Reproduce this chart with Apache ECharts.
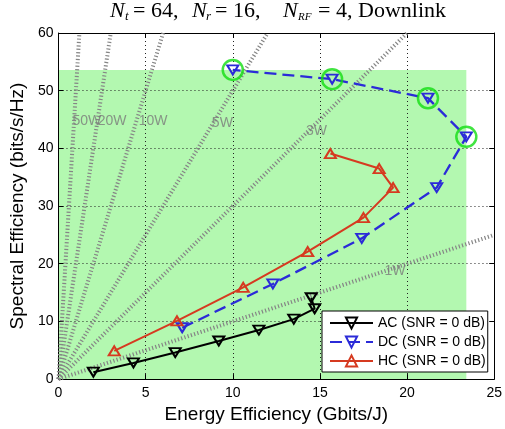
<!DOCTYPE html>
<html><head><meta charset="utf-8">
<script src="https://cdn.jsdelivr.net/npm/echarts@6/dist/echarts.min.js"></script>
<style>html,body{margin:0;padding:0;background:#fff}#c{width:505px;height:429px}</style>
</head><body><div id="c"></div>
<script>
// ---- data ----
const acData = [[2.0,1.2],[4.3,2.8],[6.7,4.6],[9.2,6.6],[11.5,8.5],[13.5,10.4],[14.7,12.2],[14.5,14.1]];
const dcData = [[7.1,8.9],[12.3,16.5],[17.4,24.4],[21.7,33.2],[23.4,42.0],[21.2,48.7],[15.7,52.0],[10.0,53.6]];
const hcData = [[3.2,4.9],[6.8,10.1],[10.6,15.9],[14.3,22.1],[17.5,28.0],[19.2,33.2],[18.4,36.5],[15.6,39.1]];
const highlightIdx = [4,5,6,7];            // circled DC points
const powerLevels = [1,3,5,10,20,50];      // W
const powerLabels = ['1W','3W','5W','10W','20W','50W'];
const powerLabelPos = [[18.7,18.7],[14.2,43.0],[8.8,44.3],[4.6,44.8],[2.25,44.8],[0.8,44.8]];
const xRange = [0,25], xStep = 5;
const yRange = [0,60], yStep = 10;
const legendNames = ['AC (SNR = 0 dB)','DC (SNR = 0 dB)','HC (SNR = 0 dB)'];
const xName = 'Energy Efficiency (Gbits/J)';
const yName = 'Spectral Efficiency (bits/s/Hz)';

// ---- build ----
const sans = 'Liberation Sans, Arial, sans-serif';
const serif = 'Liberation Serif, Times New Roman, serif';
const maxEE = Math.max(...dcData.map(d=>d[0]));
const maxSE = Math.max(...dcData.map(d=>d[1]));

const powerSeries = powerLevels.map((p,i)=>{
  const xe = Math.min(xRange[1], yRange[1]/p);
  return {
    type:'line', name:'p'+p, data:[[0,0],[xe,xe*p]], symbol:'none', z:1, silent:true,
    lineStyle:{color:'#858585', width:4, type:[1.2,2.2]}, clip:true
  };
});

const axisCommon = {
  type:'value',
  axisLine:{onZero:false, lineStyle:{color:'#000', width:1}},
  axisTick:{inside:true, length:5, lineStyle:{color:'#000'}},
};

const mk = (o)=>Object.assign({fontFamily:serif, fontSize:22, lineHeight:24, color:'#000', fontWeight:'normal'}, o);
const sub = (o)=>Object.assign({fontFamily:serif, fontStyle:'italic', fontSize:13, lineHeight:13, padding:[11,0,0,0], verticalAlign:'bottom', color:'#000', fontWeight:'normal'}, o);

const option = {
  animation:false,
  backgroundColor:'#fff',
  title:{
    left:110, top:-1, padding:0,
    text:'{n1|N}{s1|t}{e1|= 64,}{n2|N}{s2|r}{e2|= 16,}{n3|N}{s3|RF}{e3|= 4,}{d|Downlink}',
    textStyle:{
      fontWeight:'normal',
      rich:{
        n1:mk({fontStyle:'italic', width:15}),
        s1:sub({width:8}),
        e1:mk({width:59}),
        n2:mk({fontStyle:'italic', width:14}),
        s2:sub({width:9}),
        e2:mk({width:68}),
        n3:mk({fontStyle:'italic', width:15}),
        s3:sub({width:20, fontSize:11}),
        e3:mk({width:40}),
        d:mk({})
      }
    }
  },
  grid:{left:54.5, top:33, width:444.5, height:349, containLabel:false},
  legend:{
    data:legendNames, orient:'vertical', left:322, top:311,
    backgroundColor:'#fff', borderColor:'#000', borderWidth:1, borderRadius:0,
    padding:[5,2,4,7], itemGap:5, itemWidth:43, itemHeight:14,
    textStyle:{fontFamily:sans, fontSize:14, color:'#000'}
  },
  xAxis:[
    Object.assign({}, axisCommon, {
      min:xRange[0], max:xRange[1], interval:xStep, position:'bottom',
      axisLabel:{fontFamily:sans, fontSize:14, color:'#000', margin:7},
      splitLine:{show:true, lineStyle:{color:'#222', width:1, type:[1,3]}},
      name:xName, nameLocation:'middle', nameGap:24,
      nameTextStyle:{fontFamily:sans, fontSize:19, color:'#000'}
    }),
    Object.assign({}, axisCommon, {
      min:xRange[0], max:xRange[1], interval:xStep, position:'top',
      axisLabel:{show:false}, splitLine:{show:false}
    })
  ],
  yAxis:[
    Object.assign({}, axisCommon, {
      min:yRange[0], max:yRange[1], interval:yStep, position:'left',
      axisLabel:{fontFamily:sans, fontSize:14, color:'#000', margin:5},
      splitLine:{show:true, lineStyle:{color:'#222', width:1, type:[1,3]}},
      name:yName, nameLocation:'middle', nameGap:28,
      nameTextStyle:{fontFamily:sans, fontSize:19, color:'#000'}
    }),
    Object.assign({}, axisCommon, {
      min:yRange[0], max:yRange[1], interval:yStep, position:'right',
      axisLabel:{show:false}, splitLine:{show:false}
    })
  ],
  series:[
    {
      type:'custom', name:'region', z:-1, silent:true,
      data:[[maxEE,maxSE]],
      renderItem:(params, api)=>{
        const p0 = api.coord([0,0]);
        const p1 = api.coord([api.value(0), api.value(1)]);
        return {type:'rect', shape:{x:p0[0], y:p1[1], width:p1[0]-p0[0], height:p0[1]-p1[1]},
                style:{fill:'#b3f8b0'}};
      }
    },
    ...powerSeries,
    {
      type:'scatter', name:'plabels', silent:true, z:2, symbolSize:0,
      data:powerLabelPos.map((p,i)=>({value:p, label:{formatter:powerLabels[i]}})),
      label:{show:true, position:'right', distance:0, color:'#7a7a7a', fontFamily:sans, fontSize:14}
    },
    {
      type:'line', name:legendNames[0], data:acData, z:3, color:'#000',
      symbol:'triangle', symbolRotate:180, symbolSize:[11,9],
      lineStyle:{color:'#000', width:2},
      itemStyle:{color:'rgba(0,0,0,0)', borderColor:'#000', borderWidth:2}
    },
    {
      type:'line', name:legendNames[1], data:dcData, z:3, color:'#2b2bd8',
      symbol:'triangle', symbolRotate:180, symbolSize:[11,9],
      lineStyle:{color:'#2b2bd8', width:2.3, type:[12,6]},
      itemStyle:{color:'rgba(0,0,0,0)', borderColor:'#2b2bd8', borderWidth:2}
    },
    {
      type:'line', name:legendNames[2], data:hcData, z:3, color:'#d63a20',
      symbol:'triangle', symbolSize:[11,9],
      lineStyle:{color:'#d63a20', width:2},
      itemStyle:{color:'rgba(0,0,0,0)', borderColor:'#d63a20', borderWidth:2}
    },
    {
      type:'scatter', name:'pareto', z:4, silent:true,
      data:highlightIdx.map(i=>dcData[i]),
      symbol:'circle', symbolSize:20,
      itemStyle:{color:'rgba(0,0,0,0)', borderColor:'#11dd11', borderWidth:2.5}
    }
  ]
};
const chart = echarts.init(document.getElementById('c'), null, {renderer:'canvas'});
chart.setOption(option);
</script>
</body></html>
